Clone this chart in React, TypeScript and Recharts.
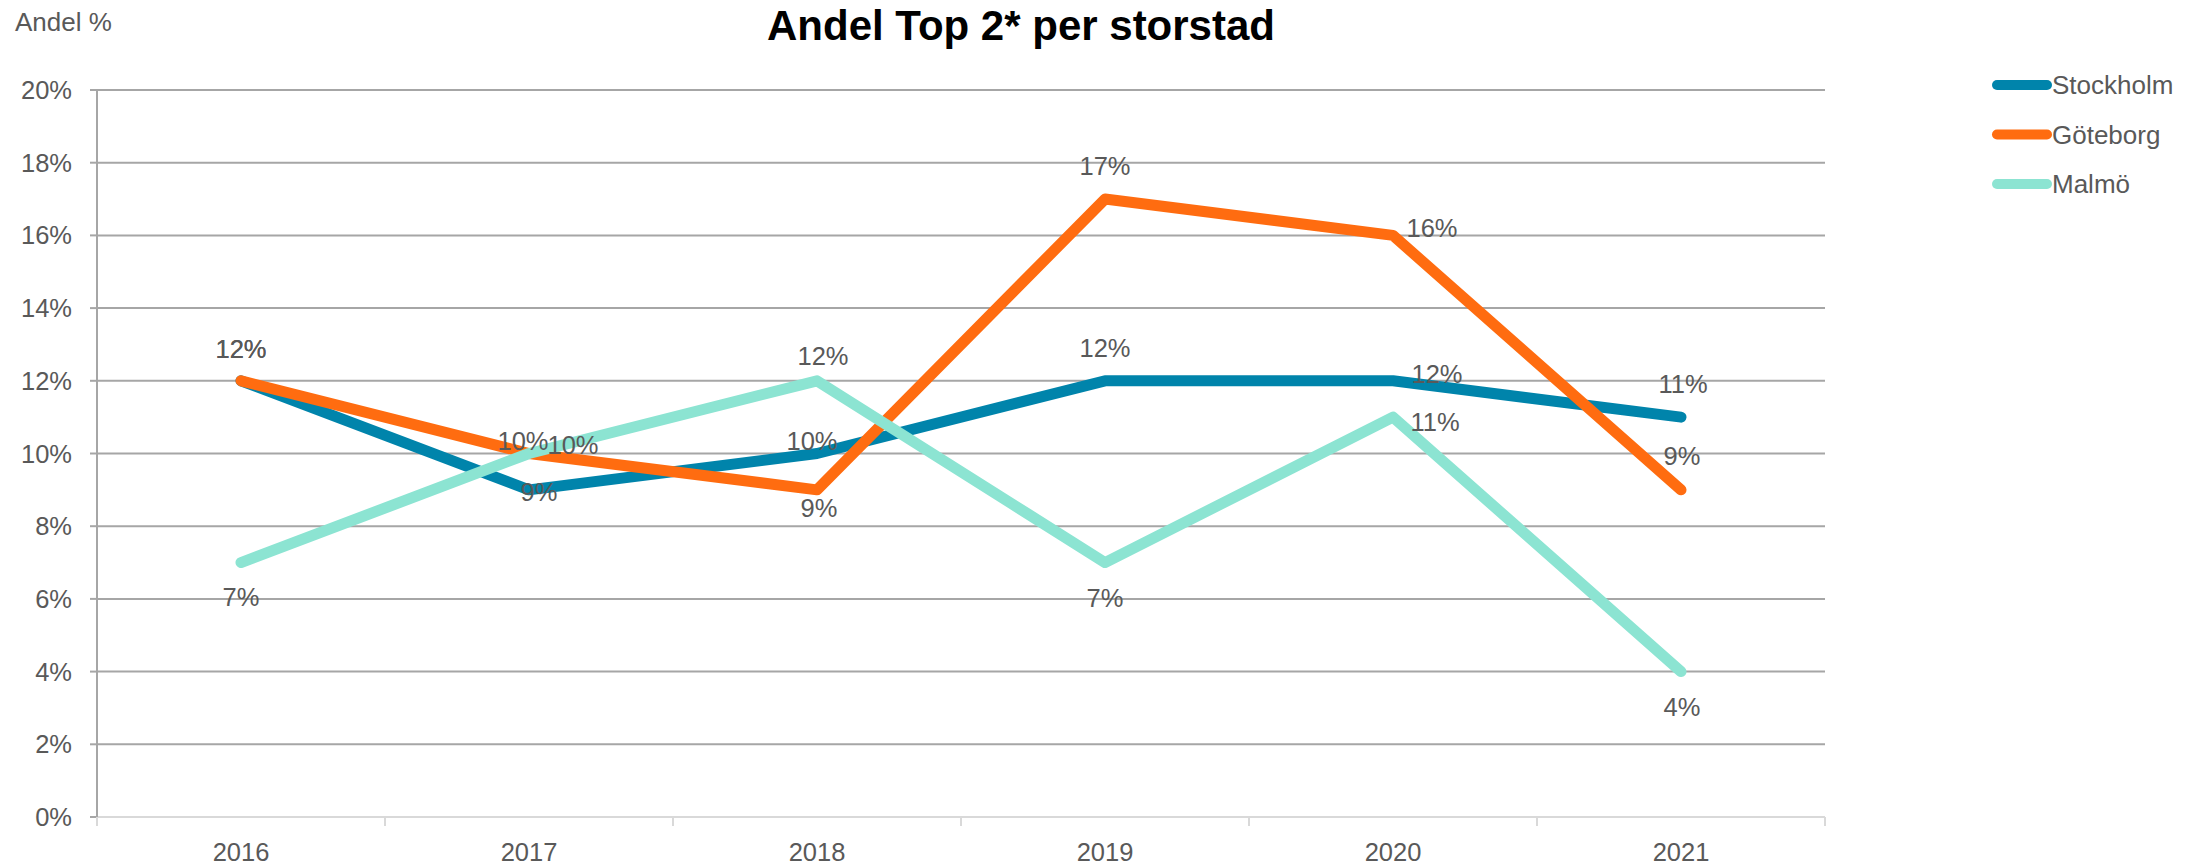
import React from 'react';
import { LineChart, Line, XAxis, YAxis, CartesianGrid, LabelList, Legend } from 'recharts';

// ---- data ----
const YEARS = ['2016', '2017', '2018', '2019', '2020', '2021'];
const STOCKHOLM = [12, 9, 10, 12, 12, 11];
const GOTEBORG = [12, 10, 9, 17, 16, 9];
const MALMO = [7, 10, 12, 7, 11, 4];
const Y_TICKS = [0, 2, 4, 6, 8, 10, 12, 14, 16, 18, 20];

const TITLE = 'Andel Top 2* per storstad';
const Y_TITLE = 'Andel %';

const SERIES = [
  { key: 'stockholm', name: 'Stockholm', color: '#0084AB', values: STOCKHOLM },
  { key: 'goteborg', name: 'Göteborg', color: '#FF6C10', values: GOTEBORG },
  { key: 'malmo', name: 'Malmö', color: '#8CE4D2', values: MALMO },
];

// ---- style: where each data label sits relative to its point (dx, dy of text centre) ----
const LABEL_OFFSETS: Record<string, number[][]> = {
  stockholm: [[0, -32], [10, 2], [-5, -13], [0, -33], [44, -7], [2, -33]],
  goteborg: [[0, -32], [-6, -13], [2, 18], [0, -33], [39, -7], [1, -34]],
  malmo: [[0, 34], [44, -9], [6, -25], [0, 35], [42, 5], [1, 35]],
};

const FONT = '"Liberation Sans", Arial, sans-serif';
const TEXT_GREY = '#595959';
const HALF_BAND = 144;

const data = YEARS.map((year, i) => {
  const row: any = { year };
  SERIES.forEach((s) => {
    row[s.key] = s.values[i];
  });
  return row;
});

const makeLabel = (key: string) => (props: any) => {
  const { index, value } = props;
  const px = props.x ?? props.viewBox?.x;
  const py = props.y ?? props.viewBox?.y;
  if (px == null || py == null) return null;
  const off = (LABEL_OFFSETS[key] && LABEL_OFFSETS[key][index]) || [0, -30];
  return (
    <text
      x={px + off[0]}
      y={py + off[1]}
      dy="0.355em"
      textAnchor="middle"
      fontSize={25.5}
      fill={TEXT_GREY}
      fontFamily={FONT}
    >
      {`${value}%`}
    </text>
  );
};

const XTick = (props: any) => {
  const { x, y, payload, index } = props;
  return (
    <g>
      <line x1={x - HALF_BAND} x2={x - HALF_BAND} y1={y} y2={y + 9} stroke="#D9D9D9" strokeWidth={2} />
      {index === YEARS.length - 1 && (
        <line x1={x + HALF_BAND} x2={x + HALF_BAND} y1={y} y2={y + 9} stroke="#D9D9D9" strokeWidth={2} />
      )}
      <text x={x} y={y + 26} dy="0.71em" textAnchor="middle" fontSize={25.5} fill={TEXT_GREY} fontFamily={FONT}>
        {payload.value}
      </text>
    </g>
  );
};

const renderLegend = (props: any) => {
  const payload: any[] = (props && props.payload) || [];
  const items = SERIES.map((s) => {
    const found = payload.find((p: any) => p.dataKey === s.key || p.value === s.name);
    return { value: s.name, color: (found && found.color) || s.color };
  });
  return (
    <svg width={215} height={140} style={{ display: 'block' }}>
      {items.map((it: any, i: number) => (
        <g key={it.value}>
          <line x1={12} x2={62} y1={15 + i * 49.5} y2={15 + i * 49.5} stroke={it.color} strokeWidth={10} strokeLinecap="round" />
          <text x={67} y={15 + i * 49.5} dy="0.355em" fontSize={26} fill={TEXT_GREY} fontFamily={FONT}>
            {it.value}
          </text>
        </g>
      ))}
    </svg>
  );
};

export default function App() {
  return (
    <div style={{ position: 'absolute', left: 0, top: 0, width: 2200, height: 867, background: '#fff' }}>
      <LineChart
        width={2200}
        height={867}
        data={data}
        margin={{ top: 90, right: 375, bottom: 0, left: 0 }}
        style={{ fontFamily: FONT }}
      >
        <text x={1021} y={40} textAnchor="middle" fontSize={42} fontWeight="bold" fill="#000" fontFamily={FONT}>
          {TITLE}
        </text>
        <text x={15} y={31} fontSize={26} fill={TEXT_GREY} fontFamily={FONT}>
          {Y_TITLE}
        </text>
        <CartesianGrid vertical={false} stroke="#A6A6A6" strokeWidth={2} />
        <XAxis
          dataKey="year"
          height={50}
          padding={{ left: HALF_BAND, right: HALF_BAND }}
          axisLine={{ stroke: '#D9D9D9', strokeWidth: 2 }}
          tickLine={false}
          tickSize={0}
          tickMargin={0}
          interval={0}
          tick={(p: any) => <XTick {...p} />}
        />
        <YAxis
          width={97}
          domain={[0, 20]}
          ticks={Y_TICKS}
          interval={0}
          tickFormatter={(v: number) => `${v}%`}
          axisLine={{ stroke: '#A6A6A6', strokeWidth: 2 }}
          tickLine={{ stroke: '#A6A6A6', strokeWidth: 2 }}
          tickSize={7}
          tickMargin={18}
          tick={{ fill: TEXT_GREY, fontSize: 25.5, fontFamily: FONT }}
        />
        {SERIES.map((s) => (
          <Line
            key={s.key}
            type="linear"
            dataKey={s.key}
            name={s.name}
            stroke={s.color}
            strokeWidth={11}
            strokeLinecap="round"
            strokeLinejoin="round"
            dot={false}
            activeDot={false}
            isAnimationActive={false}
          >
            <LabelList dataKey={s.key} content={makeLabel(s.key)} />
          </Line>
        ))}
        <Legend
          layout="vertical"
          align="center"
          verticalAlign="middle"
          content={renderLegend}
          wrapperStyle={{ position: 'absolute', left: 1985, top: 70, width: 215, height: 140 }}
        />
      </LineChart>
    </div>
  );
}
